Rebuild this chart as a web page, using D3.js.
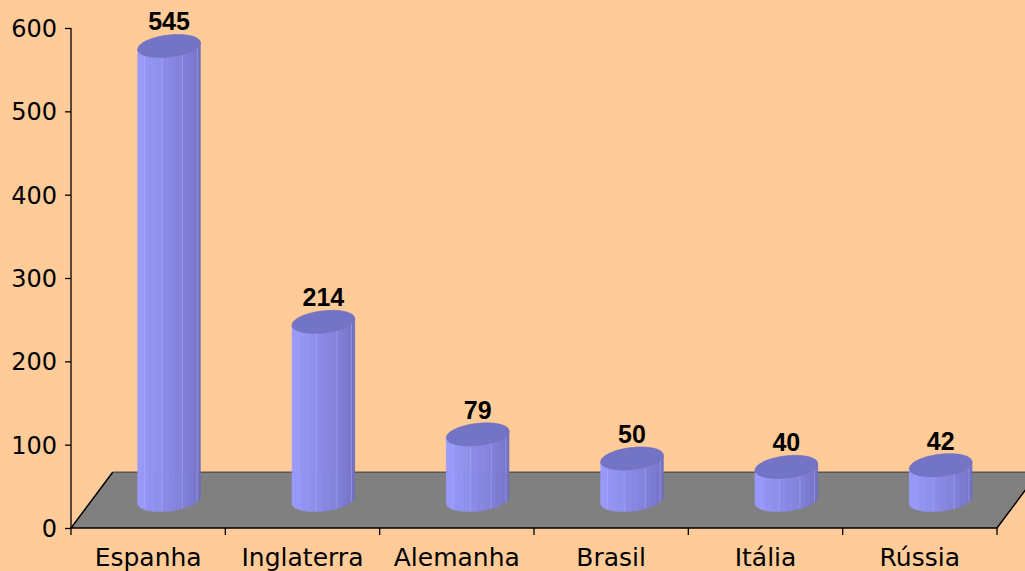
<!DOCTYPE html>
<html><head><meta charset="utf-8">
<script src="https://cdn.jsdelivr.net/npm/d3@7"></script>
<style>html,body{margin:0;padding:0;background:#FFCC99;overflow:hidden}</style>
</head><body>
<svg id="c" width="1025" height="571"></svg>
<script>
const categories = ["Espanha","Inglaterra","Alemanha","Brasil","Itália","Rússia"];
const values = [545,214,79,50,40,42];
const yTicks = [0,100,200,300,400,500,600];

const svg = d3.select("#c");
svg.append("rect").attr("width",1025).attr("height",571).attr("fill","#FFCC99");

const x = d3.scaleBand().domain(categories).range([71,997]);
const y = d3.scaleLinear().domain([0,600]).range([528,28]);
const depth = {dx:41.7, dy:-55.7};

// floor
const y0 = y(0);
const floorPts = [[x.range()[0],y0],[x.range()[1],y0],[x.range()[1]+depth.dx,y0+depth.dy],[x.range()[0]+depth.dx,y0+depth.dy]];
svg.append("path").attr("d",d3.line()(floorPts)+"Z").attr("fill","#808080");
svg.append("line").attr("x1",floorPts[3][0]).attr("y1",floorPts[3][1]).attr("x2",floorPts[2][0]).attr("y2",floorPts[2][1]).attr("stroke","#555").attr("stroke-width",1.5);
svg.append("path").attr("d",d3.line()([floorPts[3],floorPts[0],floorPts[1],floorPts[2]])).attr("fill","none").attr("stroke","#000").attr("stroke-width",1.5);

// y axis
svg.append("line").attr("x1",71).attr("x2",71).attr("y1",y(600)).attr("y2",y0).attr("stroke","#000").attr("stroke-width",1.3);
const yAxis = svg.append("g").attr("transform","translate(71,0)").call(d3.axisLeft(y).tickValues(yTicks).tickSize(6).tickPadding(8));
yAxis.select(".domain").remove();
yAxis.selectAll("line").attr("stroke","#000").attr("stroke-width",1.3);
yAxis.selectAll("text").attr("font-family","DejaVu Sans").attr("font-size",24).attr("fill","#000").attr("dy","0.36em");

// x ticks
const xb = categories.map(c=>x(c)).concat([x.range()[1]]);
svg.selectAll(".xt").data(xb).enter().append("line")
  .attr("x1",d=>d).attr("x2",d=>d).attr("y1",y0).attr("y2",y0+7).attr("stroke","#000").attr("stroke-width",1.3);
svg.selectAll(".xl").data(categories).enter().append("text")
  .attr("x",d=>x(d)+x.bandwidth()/2).attr("y",566).attr("text-anchor","middle")
  .attr("font-family","DejaVu Sans").attr("font-size",25).attr("fill","#000").text(d=>d);

// cylinders
const a=30, b=9, c=11.5;
const t0 = Math.atan2(b,a);
function ept(cx,cy,t){return [cx + a*Math.cos(t) + b*Math.sin(t), cy - c*Math.sin(t)];}
const shade = d3.interpolateRgb("#9c9cff","#6e6ebe");
const N = 14;
categories.forEach((cat,i)=>{
  const cx = x(cat)+x.bandwidth()/2 + depth.dx/2;
  const cyB = y(0) + depth.dy/2;
  const cyT = y(values[i]) + depth.dy/2;
  const g = svg.append("g");
  const ts = d3.range(N+1).map(k=>t0+Math.PI + Math.PI*k/N);
  for(let k=0;k<N;k++){
    const p1=ept(cx,cyT,ts[k]), p2=ept(cx,cyT,ts[k+1]), p3=ept(cx,cyB,ts[k+1]), p4=ept(cx,cyB,ts[k]);
    const f = k/(N-1);
    const col = shade(Math.pow(f,1.3));
    g.append("path").attr("d",d3.line()([p1,p2,p3,p4])+"Z").attr("fill",col).attr("stroke",col).attr("stroke-width",0.6);
    if(k>0 && k%3===0){
      g.append("line").attr("x1",p1[0]).attr("y1",p1[1]).attr("x2",p4[0]).attr("y2",p4[1]).attr("stroke","#b0b0ff").attr("stroke-width",0.7).attr("opacity",0.7);
    }
  }
  const top = d3.range(0,Math.PI*2+0.01,Math.PI/24).map(t=>ept(cx,cyT,t));
  g.append("path").attr("d",d3.line()(top)+"Z").attr("fill","#7474c6").attr("stroke","#6a6abb").attr("stroke-width",0.6);
  svg.append("text").attr("x",cx).attr("y",cyT-c-4).attr("text-anchor","middle")
    .attr("font-family","Liberation Sans, Arial").attr("font-weight","bold").attr("font-size",25).attr("fill","#000").text(values[i]);
});
</script>
</body></html>
